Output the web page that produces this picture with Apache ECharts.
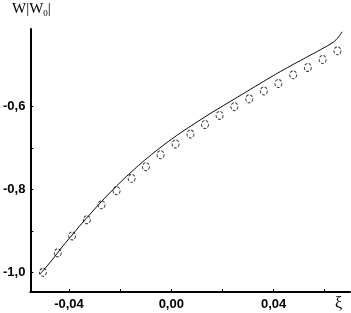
<!DOCTYPE html>
<html>
<head>
<meta charset="utf-8">
<script src="https://cdn.jsdelivr.net/npm/echarts@6/dist/echarts.min.js"></script>
<style>
  html, body { margin: 0; padding: 0; background: #fff; }
  #chart { width: 351px; height: 313px; }
</style>
</head>
<body>
<div id="chart"></div>
<script>
// calculated curve
const lineXi = [-0.0513, -0.0466, -0.0427, -0.0388, -0.0350, -0.0311, -0.0272, -0.0233, -0.0194, -0.0155,
  -0.0117, -0.0078, -0.0039, 0.0000, 0.0039, 0.0078, 0.0117, 0.0155, 0.0194, 0.0233,
  0.0272, 0.0311, 0.0350, 0.0388, 0.0427, 0.0466, 0.0505, 0.0544, 0.0583, 0.0621, 0.0645, 0.0668];
const lineW = [-1.004, -0.970, -0.939, -0.910, -0.882, -0.855, -0.8285, -0.8035, -0.7795, -0.757,
  -0.736, -0.716, -0.697, -0.679, -0.662, -0.646, -0.6305, -0.6155, -0.601, -0.5865,
  -0.572, -0.5575, -0.543, -0.529, -0.515, -0.5015, -0.4885, -0.4755, -0.4625, -0.449, -0.438, -0.419];

// measured points (circles)
const pointXi = [-0.0502, -0.0444, -0.0388, -0.0330, -0.0273, -0.0214, -0.0155, -0.0099, -0.0042, 0.0017,
  0.0075, 0.0132, 0.0189, 0.0247, 0.0305, 0.0362, 0.0419, 0.0477, 0.0534, 0.0592, 0.0650];
const pointW = [-1.000, -0.953, -0.912, -0.873, -0.837, -0.803, -0.773, -0.745, -0.716, -0.690,
  -0.666, -0.643, -0.621, -0.600, -0.581, -0.562, -0.544, -0.523, -0.505, -0.486, -0.465];

const xLabelValues = [-0.04, 0, 0.04];
const xTickValues = [-0.04, -0.02, 0, 0.02, 0.04, 0.06];
const yLabelValues = [-1.0, -0.8, -0.6];
const yTickValues = [-1.0, -0.9, -0.8, -0.7, -0.6];

const myChart = echarts.init(document.getElementById('chart'));

const labelFont = {
  color: '#000',
  fontFamily: 'Liberation Sans',
  fontWeight: 'bold',
  fontSize: 13
};

const option = {
  animation: false,
  backgroundColor: '#fff',
  grid: {
    left: 28,
    top: 29,
    right: 1,
    bottom: 21,
    containLabel: false
  },
  xAxis: {
    type: 'value',
    min: -0.0551,
    max: 0.0699,
    axisLine: { onZero: false, lineStyle: { color: '#000', width: 2 } },
    axisTick: { inside: true, length: 3, customValues: xTickValues, lineStyle: { color: '#000', width: 1 } },
    axisLabel: Object.assign({
      customValues: xLabelValues,
      margin: 6,
      formatter: v => v.toFixed(2).replace('.', ',')
    }, labelFont),
    splitLine: { show: false }
  },
  yAxis: {
    type: 'value',
    min: -1.0476,
    max: -0.4123,
    axisLine: { onZero: false, lineStyle: { color: '#000', width: 2 } },
    axisTick: { inside: true, length: 3, customValues: yTickValues, lineStyle: { color: '#000', width: 1 } },
    axisLabel: Object.assign({
      customValues: yLabelValues,
      margin: 5,
      formatter: v => v.toFixed(1).replace('.', ',')
    }, labelFont),
    splitLine: { show: false }
  },
  graphic: [
    {
      type: 'text',
      left: 12,
      top: 2,
      style: {
        text: '{a|W|W}{s|0}{a||}',
        rich: {
          a: { fontFamily: 'Liberation Serif', fontSize: 15, fill: '#000' },
          s: { fontFamily: 'Liberation Serif', fontSize: 9, fill: '#000', verticalAlign: 'bottom', padding: [8, 0, 0, 0] }
        }
      }
    },
    {
      type: 'text',
      left: 335,
      top: 296,
      style: { text: 'ξ', fontFamily: 'Liberation Serif', fontSize: 16, fill: '#000' }
    }
  ],
  series: [
    {
      type: 'line',
      smooth: true,
      showSymbol: false,
      lineStyle: { color: '#000', width: 1 },
      data: lineXi.map((x, i) => [x, lineW[i]]),
      z: 2
    },
    {
      type: 'scatter',
      symbol: 'circle',
      symbolSize: [7, 8],
      itemStyle: {
        color: 'rgba(0,0,0,0)',
        borderColor: '#000',
        borderWidth: 1,
        borderType: [3, 1.5]
      },
      data: pointXi.map((x, i) => [x, pointW[i]]),
      z: 3
    }
  ]
};

myChart.setOption(option);
</script>
</body>
</html>
